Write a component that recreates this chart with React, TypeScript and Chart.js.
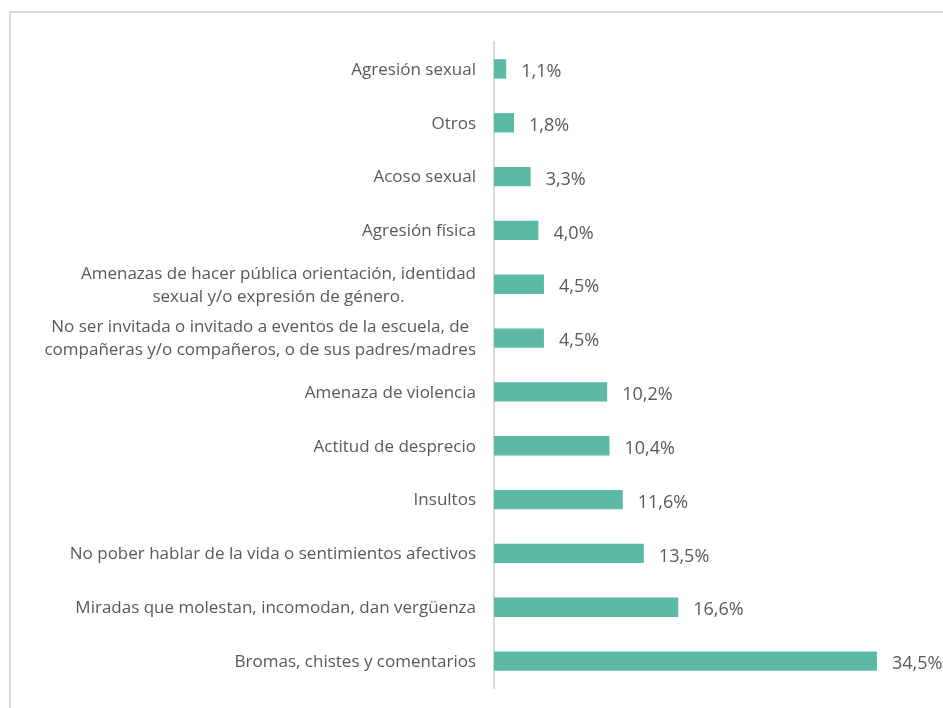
import React, { useEffect, useRef } from "react";
import { Chart, registerables } from "chart.js";

Chart.register(...registerables);

const categories: (string | string[])[] = [
  "Agresión sexual",
  "Otros",
  "Acoso sexual",
  "Agresión física",
  ["Amenazas de hacer pública orientación, identidad", "sexual y/o expresión de género."],
  ["No ser invitada o invitado a eventos de la escuela, de", "compañeras y/o compañeros, o de sus padres/madres"],
  "Amenaza de violencia",
  "Actitud de desprecio",
  "Insultos",
  "No pober hablar de la vida o sentimientos afectivos",
  "Miradas que molestan, incomodan, dan vergüenza",
  "Bromas, chistes y comentarios",
];

const values: number[] = [1.1, 1.8, 3.3, 4.0, 4.5, 4.5, 10.2, 10.4, 11.6, 13.5, 16.6, 34.5];

const FONT = "'Open Sans', 'Noto Sans', sans-serif";
const TEXT_COLOR = "#595959";
const BAR_COLOR = "#5cb9a6";

const fmt = (v: number) => v.toFixed(1).replace(".", ",") + "%";

const labelsPlugin = {
  id: "customLabels",
  afterDatasetsDraw(chart: any) {
    const ctx = chart.ctx;
    const yScale = chart.scales.y;
    const area = chart.chartArea;
    ctx.save();
    // category labels
    ctx.font = `17px ${FONT}`;
    ctx.fillStyle = TEXT_COLOR;
    ctx.textBaseline = "middle";
    ctx.textAlign = "center";
    const rightX = area.left - 18;
    const lh = 23;
    categories.forEach((cat, i) => {
      const lines = Array.isArray(cat) ? cat : [cat];
      const w = Math.max(...lines.map((l) => ctx.measureText(l).width));
      const cx = rightX - w / 2;
      const cy = yScale.getPixelForValue(i) + 1;
      const startY = cy - ((lines.length - 1) * lh) / 2;
      lines.forEach((l, j) => ctx.fillText(l, cx, startY + j * lh));
    });
    // value labels
    ctx.font = `18px ${FONT}`;
    ctx.textAlign = "left";
    const meta = chart.getDatasetMeta(0);
    meta.data.forEach((bar: any, i: number) => {
      ctx.fillText(fmt(values[i]), bar.x + 15, bar.y + 3);
    });
    ctx.restore();
  },
};

export default function App() {
  const ref = useRef<HTMLCanvasElement | null>(null);
  useEffect(() => {
    if (!ref.current) return;
    const chart = new Chart(ref.current, {
      type: "bar",
      data: {
        labels: categories as any,
        datasets: [
          {
            data: values,
            backgroundColor: BAR_COLOR,
            barPercentage: 0.36,
            categoryPercentage: 1,
          },
        ],
      },
      options: {
        indexAxis: "y",
        animation: false,
        responsive: false,
        layout: { padding: { left: 0, top: 29, bottom: 45, right: 73 } },
        plugins: { legend: { display: false }, tooltip: { enabled: false } },
        scales: {
          x: { display: false, min: 0, max: 40 },
          y: {
            ticks: { display: false },
            grid: { display: false },
            border: { display: true, color: "#d9d9d9", width: 2 },
            afterFit: (scale: any) => {
              scale.width = 483;
            },
          },
        },
      },
      plugins: [labelsPlugin],
    });
    return () => chart.destroy();
  }, []);
  return (
    <div
      style={{
        position: "fixed",
        left: 0,
        top: 0,
        width: 943,
        height: 708,
        overflow: "hidden",
        background: "#fff",
      }}
    >
      <div
        style={{
          position: "absolute",
          left: 9,
          top: 11,
          width: 1000,
          height: 720,
          border: "2px solid #d9d9d9",
        }}
      >
        <canvas ref={ref} width={1000} height={720} style={{ display: "block" }} />
      </div>
    </div>
  );
}
